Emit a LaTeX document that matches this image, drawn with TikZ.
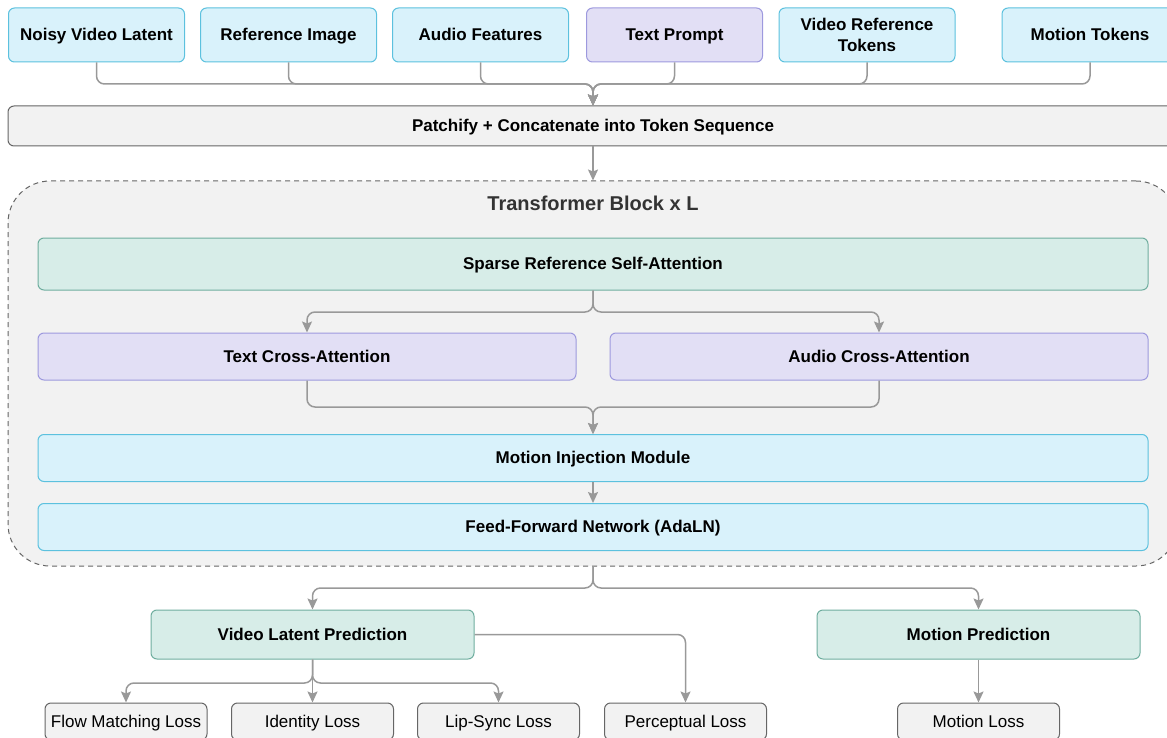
\documentclass[tikz,border=0pt]{standalone}
\usepackage{fontspec}
\setmainfont{Liberation Sans}
\usetikzlibrary{arrows.meta}
\definecolor{blueFill}{HTML}{D9F2FB}
\definecolor{blueLine}{HTML}{5CC1DE}
\definecolor{purpleFill}{HTML}{E2DFF5}
\definecolor{purpleLine}{HTML}{9D99DE}
\definecolor{greenFill}{HTML}{D7EDE8}
\definecolor{greenLine}{HTML}{6FAE9F}
\definecolor{grayFill}{HTML}{F2F2F2}
\definecolor{grayLine}{HTML}{666666}
\definecolor{linkGray}{HTML}{999999}
\tikzstyle{block}=[draw, line width=1pt, rounded corners=6pt, inner sep=0pt, align=center, text=black, text height=13pt, text depth=2pt, font=\bfseries\fontsize{17}{21}\selectfont]
\tikzstyle{input}=[block, fill=blueFill, draw=blueLine, minimum width=176, minimum height=54]
\tikzstyle{prompt}=[input, fill=purpleFill, draw=purpleLine]
\tikzstyle{layer}=[block, minimum width=1110, minimum height=47]
\tikzstyle{blue layer}=[layer, fill=blueFill, draw=blueLine]
\tikzstyle{green layer}=[layer, fill=greenFill, draw=greenLine, minimum height=52]
\tikzstyle{cross layer}=[layer, fill=purpleFill, draw=purpleLine, minimum width=538]
\tikzstyle{prediction}=[block, fill=greenFill, draw=greenLine, minimum width=323, minimum height=49]
\tikzstyle{loss}=[block, fill=grayFill, draw=grayLine, font=\fontsize{17}{21}\selectfont, minimum width=162, minimum height=37]
\tikzstyle{link}=[draw=linkGray, line width=1.5pt, rounded corners=8pt, -{Stealth[length=11pt, width=10pt, inset=2pt]}]

\begin{document}
\begin{tikzpicture}[x=1pt, y=-1pt]
    \useasboundingbox (0, 0) rectangle (1167, 738);

    \node[input] (noisy_latent) at (96.5, 35) {Noisy Video Latent};
    \node[input] (ref_image) at (288.5, 35) {Reference Image};
    \node[input] (audio_feat) at (480.5, 35) {Audio Features};
    \node[prompt] (text_prompt) at (674.5, 35) {Text Prompt};
    \node[input, text height=, text depth=] (video_ref) at (867, 35) {Video Reference\\Tokens};
    \node[input] (motion_tok) at (1090, 35) {Motion Tokens};

    \node[block, fill=grayFill, draw=grayLine, minimum width=1170, minimum height=40] (patchify) at (593, 126) {Patchify + Concatenate into Token Sequence};

    \node[draw=grayLine, fill=grayFill, dash pattern=on 5pt off 4pt, line width=1pt, rounded corners=42pt, minimum width=1170, minimum height=385] (transformer) at (593, 373.5) {};
    \node[text=black!80, font=\bfseries\fontsize{20}{24}\selectfont] (transformer_title) at (593, 203) {Transformer Block x L};

    \node[green layer] (sparse_attn) at (593, 264) {Sparse Reference Self-Attention};
    \node[cross layer] (text_attn) at (307, 356.5) {Text Cross-Attention};
    \node[cross layer] (audio_attn) at (879, 356.5) {Audio Cross-Attention};
    \node[blue layer] (motion_inj) at (593, 458) {Motion Injection Module};
    \node[blue layer] (ffn) at (593, 527) {Feed-Forward Network (AdaLN)};

    \node[prediction] (latent_pred) at (312.5, 634.5) {Video Latent Prediction};
    \node[prediction] (motion_pred) at (978.5, 634.5) {Motion Prediction};

    \node[loss] (flow_loss) at (126, 721.5) {Flow Matching Loss};
    \node[loss] (identity_loss) at (312.5, 721.5) {Identity Loss};
    \node[loss] (lipsync_loss) at (498.5, 721.5) {Lip-Sync Loss};
    \node[loss] (perceptual_loss) at (685.5, 721.5) {Perceptual Loss};
    \node[loss] (motion_loss) at (978.5, 721.5) {Motion Loss};

    \coordinate (in_join) at (593, 84);
    \coordinate (attn_split) at (593, 312);
    \coordinate (attn_join) at (593, 407);
    \coordinate (out_split) at (593, 588);
    \coordinate (loss_split) at (312.5, 683);

    \foreach \src in {noisy_latent, ref_image, audio_feat, text_prompt, video_ref, motion_tok}
      \draw[link] (\src.south) |- (in_join) -- (patchify.north);
    \draw[link] (patchify.south) -- (transformer.north);

    \draw[link] (sparse_attn.south) -- (attn_split) -| (text_attn.north);
    \draw[link] (sparse_attn.south) -- (attn_split) -| (audio_attn.north);
    \draw[link] (text_attn.south) |- (attn_join) -- (motion_inj.north);
    \draw[link] (audio_attn.south) |- (attn_join) -- (motion_inj.north);
    \draw[link] (motion_inj.south) -- (ffn.north);

    \draw[link] (transformer.south) -- (out_split) -| (latent_pred.north);
    \draw[link] (transformer.south) -- (out_split) -| (motion_pred.north);

    \draw[link] (latent_pred.south) -- (loss_split) -| (flow_loss.north);
    \draw[link] (latent_pred.south) -- (identity_loss.north);
    \draw[link] (latent_pred.south) -- (loss_split) -| (lipsync_loss.north);
    \draw[link] (latent_pred.east) -| (perceptual_loss.north);
    \draw[link] (motion_pred.south) -- (motion_loss.north);
  \end{tikzpicture}
\end{document}
